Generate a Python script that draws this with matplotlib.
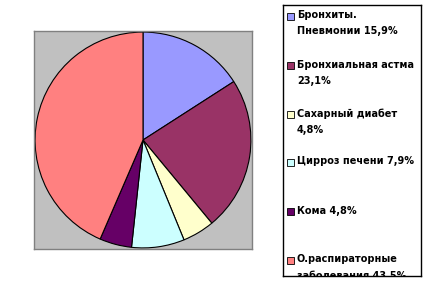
import matplotlib
matplotlib.use("Agg")
import matplotlib.pyplot as plt
from matplotlib.patches import Rectangle

labels = ["Бронхиты.\nПневмонии 15,9%", "Бронхиальная астма\n23,1%", "Сахарный диабет\n4,8%",
          "Цирроз печени 7,9%", "Кома 4,8%", "О.распираторные\nзаболевания 43,5%"]
values = [15.9, 23.1, 4.8, 7.9, 4.8, 43.5]
colors = ["#9999FF", "#993366", "#FFFFCC", "#CCFFFF", "#660066", "#FF8080"]

W, H = 431, 281
fig = plt.figure(figsize=(W/100, H/100), dpi=100)
fig.patch.set_facecolor("white")

# plot area
ax = fig.add_axes([34/W, 1-249/H, 218/W, 218/H])
ax.pie(values, colors=colors, startangle=90, counterclock=False,
       wedgeprops=dict(edgecolor="black", linewidth=0.8), radius=1.0)
ax.set_frame_on(True)
ax.set_facecolor("#C0C0C0")
ax.patch.set_visible(True)
ax.set_xlim(-1.01, 1.01)
ax.set_ylim(-1.01, 1.01)
ax.set_aspect("auto")
ax.set_xticks([]); ax.set_yticks([])
for s in ax.spines.values():
    s.set_visible(True)
    s.set_edgecolor("#808080"); s.set_linewidth(1)

# legend
lx0, ly0, lx1, ly1 = 283, 5, 421, 276
lax = fig.add_axes([lx0/W, 1-ly1/H, (lx1-lx0)/W, (ly1-ly0)/H])
lax.set_xlim(lx0, lx1)
lax.set_ylim(ly1, ly0)
lax.set_xticks([]); lax.set_yticks([])
for s in lax.spines.values():
    s.set_edgecolor("black"); s.set_linewidth(1)
ys = [16, 65, 114, 162, 211, 260]
for lab, c, y in zip(labels, colors, ys):
    lax.add_patch(Rectangle((287, y-3.5), 7, 7, facecolor=c, edgecolor="black", linewidth=0.6))
    lax.text(297, y-5.5, lab, fontsize=7.0, fontweight="bold", va="top", ha="left",
             linespacing=1.75, clip_on=True, family="DejaVu Sans")

fig.savefig("out.png", dpi=100)
